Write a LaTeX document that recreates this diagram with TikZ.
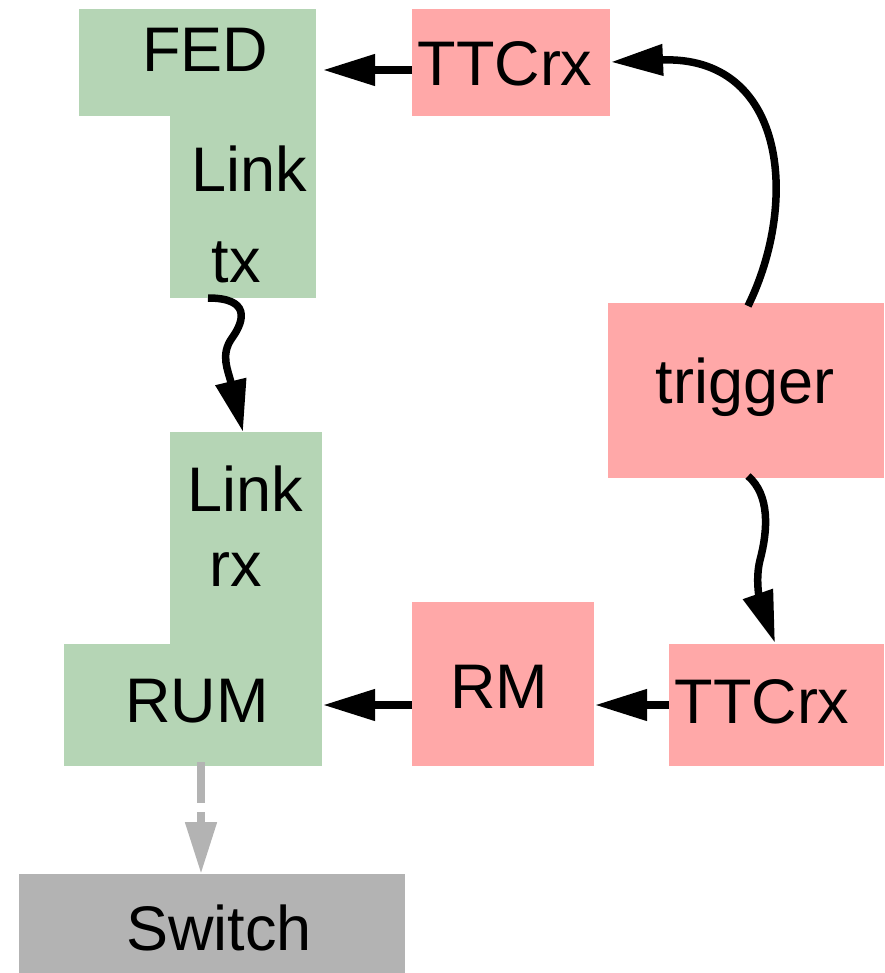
\documentclass[tikz,border=0pt]{standalone}
\usepackage{fontspec}
\setmainfont{Liberation Sans}
\usetikzlibrary{arrows.meta}
\definecolor{grn}{RGB}{181,213,181}
\definecolor{pnk}{RGB}{255,168,168}
\definecolor{gry}{RGB}{179,179,179}
\begin{document}
\begin{tikzpicture}[x=1pt,y=-1pt,
  box/.style={inner sep=0pt, outer sep=0pt, anchor=north west},
  gbox/.style={box, fill=grn},
  pbox/.style={box, fill=pnk},
  txt/.style={inner sep=0pt, anchor=base, font=\fontsize{63}{75}\selectfont},
  arr/.style={line width=7.5pt, -{Triangle[length=52pt,width=30pt]}},
  garr/.style={line width=8pt, gry, dash pattern=on 41pt off 9pt, -{Triangle[length=52pt,width=30pt]}}]
\useasboundingbox (0,0) rectangle (884,973);
% boxes
\node[gbox, minimum width=237pt, minimum height=107pt] (fedbox) at (79,9) {};
\node[gbox, minimum width=146pt, minimum height=184pt] (ltxbox) at (170,114) {};
\node[pbox, minimum width=198pt, minimum height=107pt] (ttcabox) at (412,9) {};
\node[pbox, minimum width=276pt, minimum height=175pt] (trigbox) at (608,303) {};
\node[gbox, minimum width=152pt, minimum height=214pt] (lrxbox) at (170,432) {};
\node[gbox, minimum width=258pt, minimum height=122pt] (rumbox) at (64,644) {};
\node[pbox, minimum width=182pt, minimum height=164pt] (rmbox) at (412,602) {};
\node[pbox, minimum width=215pt, minimum height=122pt] (ttcbbox) at (669,644) {};
\node[box, fill=gry, minimum width=386pt, minimum height=99pt] (swbox) at (19,874) {};
% texts
\node[txt] (fedtxt) at (205,72) {FED};
\node[txt] (linktxt) at (249,192) {Link};
\node[txt] (txtxt) at (236,283) {tx};
\node[txt] (ttcatxt) at (505,86) {TTCrx};
\node[txt] (trigtxt) at (745,403) {trigger};
\node[txt] (linkrtxt) at (245,511) {Link};
\node[txt] (rxtxt) at (236,586) {rx};
\node[txt] (rumtxt) at (197,722) {RUM};
\node[txt] (rmtxt) at (499,708) {RM};
\node[txt] (ttcbtxt) at (762,723) {TTCrx};
\node[txt] (swtxt) at (219,950) {Switch};
% connector endpoints
\coordinate (a1s) at (ttcabox.west |- 0,70);
\coordinate (a1e) at (323,70);
\coordinate (a2s) at (748,306);
\coordinate (a2e) at (611,62);
\coordinate (a3s) at (208,298);
\coordinate (a3m) at (232,338);
\coordinate (a3e) at (243,432);
\coordinate (a4s) at (748,476);
\coordinate (a4m) at (760,560);
\coordinate (a4e) at (775,643);
\coordinate (a5s) at (ttcbbox.west |- 0,705);
\coordinate (a5e) at (595,705);
\coordinate (a6s) at (rmbox.west |- 0,705);
\coordinate (a6e) at (323,705);
\coordinate (a7s) at (201,762);
\coordinate (a7e) at (201,874);
% connectors
\draw[arr] (a1s) -- (a1e);
\draw[arr] (a2s) .. controls (800,200) and (785,55) .. (a2e);
\draw[arr] (a3s) .. controls (250,298) and (245,320) .. (a3m) .. controls (220,355) and (228,370) .. (a3e);
\draw[arr] (a4s) .. controls (770,495) and (768,530) .. (a4m) .. controls (755,580) and (760,600) .. (a4e);
\draw[arr] (a5s) -- (a5e);
\draw[arr] (a6s) -- (a6e);
\draw[garr] (a7s) -- (a7e);
\end{tikzpicture}
\end{document}
